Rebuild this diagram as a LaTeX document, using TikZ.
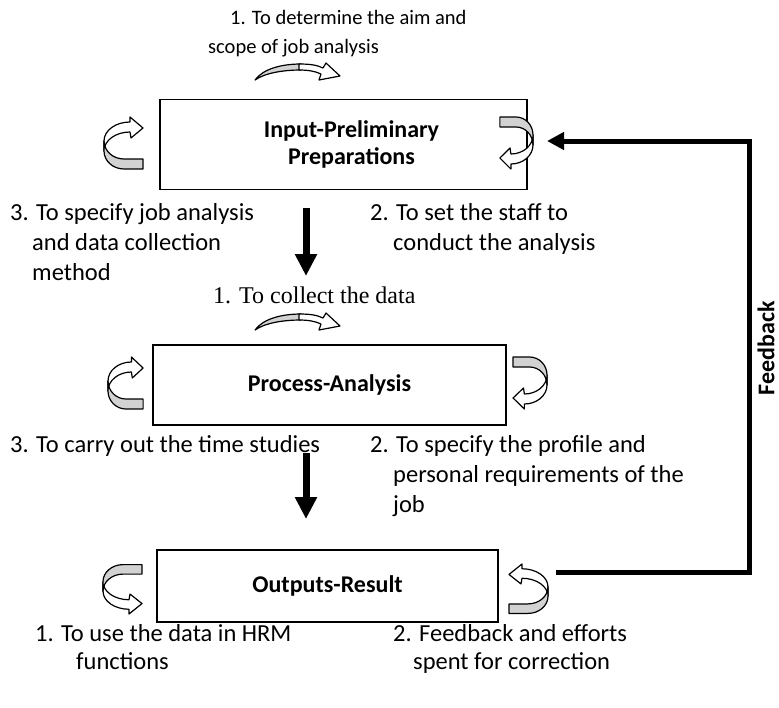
\documentclass[tikz,border=0pt]{standalone}
\usepackage{fontspec}
\setmainfont{Carlito}
\newfontfamily\timesfont{Liberation Serif}
\usetikzlibrary{positioning,arrows.meta}

\definecolor{ribbon}{RGB}{210,210,210}

\tikzset{
    uturn/.pic={
        \draw[fill=white, line width=1.2, line join=round]
            (26,15) -- (27,21) -- (39,11) -- (26,0) -- (26,5)
            arc[start angle=270, end angle=180, x radius=26, y radius=19]
            -- (0,34)
            arc[start angle=180, end angle=270, x radius=26, y radius=19] -- cycle;
        \draw[fill=ribbon, line width=1.2, line join=round]
            (0,24) arc[start angle=180, end angle=90, x radius=20, y radius=18]
            -- (39,42) -- (39,52) -- (20,52)
            arc[start angle=90, end angle=180, x radius=20, y radius=18] -- cycle;
    },
    archarrow/.pic={
        \draw[fill=ribbon, line width=1.2, line join=round]
            (0,17) .. controls (8,6) and (26,1) .. (46,1) -- (46,7)
            .. controls (28,7) and (10,10) .. (0,17) -- cycle;
        \draw[fill=white, line width=1.2, line join=round]
            (44,1) .. controls (55,1) and (62,2) .. (68,5) -- (71,0) -- (85,13)
            -- (64,17) -- (66,11) .. controls (60,8) and (52,7) .. (44,7) -- cycle;
    }
}

\begin{document}
\begin{tikzpicture}[
    x=1pt, y=-1pt,
    every node/.style={font=\fontsize{24.5}{29}\selectfont, inner sep=0pt},
    stage/.style={
        draw,
        line width=1.8,
        align=center,
        font=\fontsize{24}{27}\selectfont\bfseries
    },
    note/.style={anchor=base west},
    small/.style={font=\fontsize{20.5}{25}\selectfont},
    downarrow/.style={line width=7, -{Triangle[width=21pt,length=22pt]}},
    fbarrow/.style={line width=5, line join=miter, -{Triangle[width=17pt,length=17pt]}}
]
\useasboundingbox (0,0) rectangle (779,707);

\node[stage, minimum width=367, minimum height=90] (prep) at (343.5,144.5) {\hspace*{16pt}Input-Preliminary\\\hspace*{16pt}Preparations};
\node[stage, minimum width=353, minimum height=80] (proc) at (329.5,385) {Process-Analysis};
\node[stage, minimum width=341, minimum height=72] (outp) at (327.5,586) {Outputs-Result};

\node[note, small] (aim1) at (230,24) {1. To determine the aim and};
\node[note, small] (aim2) at (208,53) {scope of job analysis};
\node[note] (meth1) at (10,220) {3. To specify job analysis};
\node[note] (meth2) at (32,250) {and data collection};
\node[note] (meth3) at (32,280) {method};
\node[note] (staff1) at (370,220) {2. To set the staff to};
\node[note] (staff2) at (393,250) {conduct the analysis};
\node[note, font=\fontsize{24}{29}\selectfont\timesfont] (collect) at (213,303) {1. To collect the data};
\node[note] (time) at (10,452) {3. To carry out the time studies};
\node[note] (prof1) at (370,452) {2. To specify the profile and};
\node[note] (prof2) at (393,482) {personal requirements of the};
\node[note] (prof3) at (393,512) {job};
\node[note] (hrm1) at (35,641) {1. To use the data in HRM};
\node[note] (hrm2) at (76,669) {functions};
\node[note] (corr1) at (393,641) {2. Feedback and efforts};
\node[note] (corr2) at (413,669) {spent for correction};
\node[rotate=90, font=\fontsize{24}{29}\selectfont\bfseries] (fblabel) at (766,348) {Feedback};

\pic at (255,63) {archarrow};
\pic at (255,313) {archarrow};
\pic at (104,117) {uturn};
\pic[xscale=-0.85, yscale=-1] at (533,169) {uturn};
\pic[xscale=0.9] at (108,357) {uturn};
\pic[xscale=-0.87, yscale=-1] at (547,409) {uturn};
\pic[yscale=-0.95] at (103,614) {uturn};
\pic[xscale=-1, yscale=0.95] at (548,564) {uturn};

\coordinate (d1s) at (306,208);
\coordinate (d1e) at (306,276);
\coordinate (d2s) at (306,453);
\coordinate (d2e) at (306,519);
\coordinate (fbs) at (556,572);
\coordinate (fbe) at (547,141);
\coordinate (fbx) at (749,0);

\draw[downarrow] (d1s) -- (d1e);
\draw[downarrow] (d2s) -- (d2e);
\draw[fbarrow] (fbs) -- (fbs -| fbx) -- (fbe -| fbx) -- (fbe);
\end{tikzpicture}
\end{document}
